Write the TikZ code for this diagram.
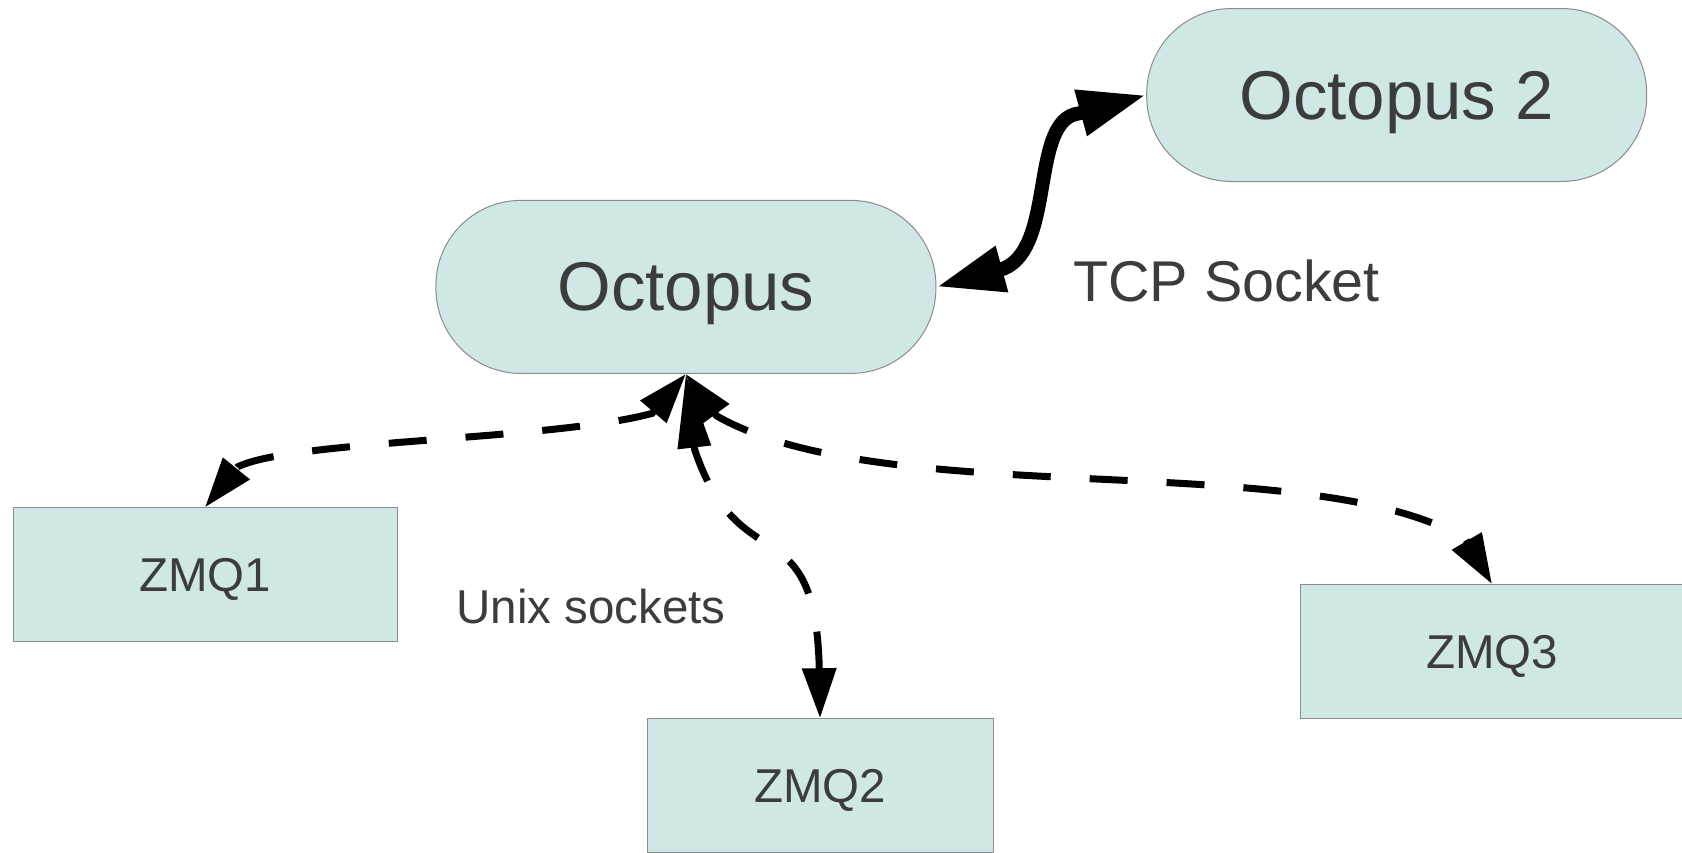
\documentclass[tikz,border=0pt]{standalone}
\usepackage{fontspec}
\setmainfont{Liberation Sans}
\usetikzlibrary{arrows.meta,calc}
\definecolor{boxfill}{HTML}{CFE7E5}
\definecolor{boxline}{HTML}{8C8C8C}
\definecolor{txtgray}{HTML}{3C3C3C}
\tikzset{
  bigtip/.tip={Triangle[length=68pt,width=44pt]},
  dtip/.tip={Triangle[length=50pt,width=33pt]},
  longtip/.tip={Triangle[length=74pt,width=32pt]},
  stadium/.style={draw=boxline, line width=1pt, fill=boxfill, rounded corners=85pt,
    minimum width=500pt, minimum height=173pt, inner sep=0pt, text=txtgray,
    font=\fontsize{69pt}{80pt}\selectfont, text height=48pt, text depth=0pt},
  zmqbox/.style={draw=boxline, line width=1pt, fill=boxfill, minimum height=134pt,
    inner sep=0pt, text=txtgray, font=\fontsize{47.5pt}{56pt}\selectfont,
    text height=34pt, text depth=0pt},
  txtlabel/.style={inner sep=0pt, anchor=base, text=txtgray},
  tcplink/.style={line width=14pt, arrows={bigtip-bigtip}},
  unixlink/.style={line width=7pt, dash pattern=on 38pt off 39pt, arrows={dtip-dtip}}
}
\begin{document}
\begin{tikzpicture}[x=1pt,y=-1pt]
\useasboundingbox (0,0) rectangle (1682,852);
\node[stadium] (oct) at (685.9,286.9) {Octopus};
\node[stadium] (oct2) at (1396.7,95) {Octopus 2};
\node[zmqbox, minimum width=384pt] (z1) at (205,574.8) {ZMQ1};
\node[zmqbox, minimum width=346pt] (z2) at (820,785.7) {ZMQ2};
\node[zmqbox, minimum width=384pt] (z3) at (1492,651.6) {ZMQ3};
\node[txtlabel, font=\fontsize{57.5pt}{66pt}\selectfont] (tcp) at (1226.5,301) {TCP Socket};
\node[txtlabel, font=\fontsize{47.5pt}{56pt}\selectfont] (unix) at (591,623.3) {Unix sockets};
\draw[tcplink] (oct.east) -- ++(67.5,-18.4)
  .. controls +(52,-22) and +(-49.2,6.5) .. ($(oct2.west)+(-67.5,18.4)$) -- (oct2.west);
\draw[unixlink] (oct.south) -- ++(-33.9,39.5)
  .. controls +(-100,27) and +(54,-27) .. ($(z1.north)+(32.7,-40.4)$) -- (z1.north);
\draw[unixlink, arrows={longtip-dtip}] (oct.south) -- ++(8.7,75.5)
  .. controls +(45,134.25) and +(-4.7,-162.55) .. ($(z2.north)+(-0.8,-52)$) -- (z2.north);
\draw[unixlink] (oct.south) -- ++(30.7,42)
  .. controls +(170,96.9) and +(-155,-93) .. ($(z3.north)+(-26.3,-44.9)$) -- (z3.north);
\end{tikzpicture}
\end{document}
